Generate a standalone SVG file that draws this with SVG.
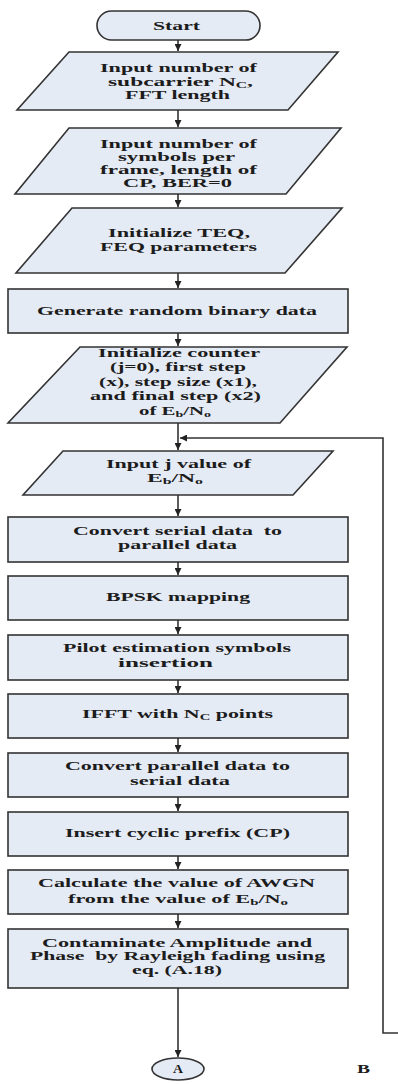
<svg xmlns="http://www.w3.org/2000/svg" width="398" height="1084" viewBox="0 0 398 1084">
<style>
.box{fill:#e5ebf5;stroke:#333;stroke-width:1.6}
.t{font-family:"Liberation Serif","Times New Roman",serif;font-weight:bold;font-size:12px;fill:#1c1c1c}
.sub{font-size:8px}
.ln{fill:none;stroke:#333;stroke-width:1.6}
</style>
<defs>
<marker id="ah" markerUnits="userSpaceOnUse" markerWidth="8" markerHeight="7" refX="7" refY="3.5" orient="auto">
<path d="M0,0 L7,3.5 L0,7 z" fill="#222"/>
</marker>
</defs>
<rect width="398" height="1084" fill="#fff"/>

<g id="connectors">
<path class="ln" d="M178,40 V51" marker-end="url(#ah)"/>
<path class="ln" d="M178,110 V127" marker-end="url(#ah)"/>
<path class="ln" d="M178,194 V207" marker-end="url(#ah)"/>
<path class="ln" d="M178,273 V288" marker-end="url(#ah)"/>
<path class="ln" d="M178,333 V346" marker-end="url(#ah)"/>
<path class="ln" d="M178,423 V450" marker-end="url(#ah)"/>
<path class="ln" d="M398,1033 H383 V438 H180" marker-end="url(#ah)"/>
<path class="ln" d="M178,495 V516" marker-end="url(#ah)"/>
<path class="ln" d="M178,562 V575" marker-end="url(#ah)"/>
<path class="ln" d="M178,620 V634" marker-end="url(#ah)"/>
<path class="ln" d="M178,680 V693" marker-end="url(#ah)"/>
<path class="ln" d="M178,738 V752" marker-end="url(#ah)"/>
<path class="ln" d="M178,797 V811" marker-end="url(#ah)"/>
<path class="ln" d="M178,856 V869" marker-end="url(#ah)"/>
<path class="ln" d="M178,914 V928" marker-end="url(#ah)"/>
<path class="ln" d="M178,988 V1057" marker-end="url(#ah)"/>
</g>

<g id="start">
<rect class="box" x="97" y="11" width="163" height="29" rx="14.5"/>
<text class="t" x="153" y="30" font-size="11" textLength="47" lengthAdjust="spacingAndGlyphs">Start</text>
</g>

<g id="input1">
<polygon class="box" points="69,52 338,52 288,110 17,110"/>
<text class="t" x="100" y="72" textLength="157" lengthAdjust="spacingAndGlyphs">Input number of</text>
<text class="t" x="108" y="86" textLength="145" lengthAdjust="spacingAndGlyphs">subcarrier N<tspan class="sub" dy="2">C</tspan><tspan dy="-2">,</tspan></text>
<text class="t" x="125" y="99" textLength="105" lengthAdjust="spacingAndGlyphs">FFT length</text>
</g>

<g id="input2">
<polygon class="box" points="69,128 341,128 286,194 15,194"/>
<text class="t" x="100" y="148" textLength="157" lengthAdjust="spacingAndGlyphs">Input number of</text>
<text class="t" x="118" y="161" textLength="117" lengthAdjust="spacingAndGlyphs">symbols per</text>
<text class="t" x="100" y="174" textLength="157" lengthAdjust="spacingAndGlyphs">frame, length of</text>
<text class="t" x="123" y="187" textLength="109" lengthAdjust="spacingAndGlyphs">CP, BER=0</text>
</g>

<g id="init-teq">
<polygon class="box" points="72,208 342,208 285,273 16,273"/>
<text class="t" x="108" y="237" textLength="142" lengthAdjust="spacingAndGlyphs">Initialize TEQ,</text>
<text class="t" x="100" y="251" textLength="157" lengthAdjust="spacingAndGlyphs">FEQ parameters</text>
</g>

<g id="generate">
<rect class="box" x="8" y="289" width="340" height="44"/>
<text class="t" x="37" y="315" textLength="280" lengthAdjust="spacingAndGlyphs">Generate random binary data</text>
</g>

<g id="init-counter">
<polygon class="box" points="80,347 347,347 280,423 8,423"/>
<text class="t" x="98" y="357" textLength="162" lengthAdjust="spacingAndGlyphs">Initialize counter</text>
<text class="t" x="110" y="371" textLength="136" lengthAdjust="spacingAndGlyphs">(j=0), first step</text>
<text class="t" x="99" y="386" textLength="158" lengthAdjust="spacingAndGlyphs">(x), step size (x1),</text>
<text class="t" x="90" y="400" textLength="171" lengthAdjust="spacingAndGlyphs">and final step (x2)</text>
<text class="t" x="139" y="415" textLength="72" lengthAdjust="spacingAndGlyphs">of E<tspan class="sub" dy="2">b</tspan><tspan dy="-2">/N</tspan><tspan class="sub" dy="2">o</tspan></text>
</g>

<g id="input-j">
<polygon class="box" points="63,451 333,451 293,495 23,495"/>
<text class="t" x="106" y="468" textLength="145" lengthAdjust="spacingAndGlyphs">Input j value of</text>
<text class="t" x="147" y="482" textLength="56" lengthAdjust="spacingAndGlyphs">E<tspan class="sub" dy="2">b</tspan><tspan dy="-2">/N</tspan><tspan class="sub" dy="2">o</tspan></text>
</g>

<g id="serial-parallel">
<rect class="box" x="8" y="517" width="340" height="45"/>
<text class="t" x="73" y="535" textLength="209" lengthAdjust="spacingAndGlyphs" xml:space="preserve">Convert serial data  to</text>
<text class="t" x="118" y="549" textLength="119" lengthAdjust="spacingAndGlyphs">parallel data</text>
</g>

<g id="bpsk">
<rect class="box" x="8" y="576" width="340" height="44"/>
<text class="t" x="106" y="601" textLength="144" lengthAdjust="spacingAndGlyphs">BPSK mapping</text>
</g>

<g id="pilot">
<rect class="box" x="8" y="635" width="340" height="45"/>
<text class="t" x="63" y="652" textLength="228" lengthAdjust="spacingAndGlyphs">Pilot estimation symbols</text>
<text class="t" x="118" y="667" textLength="95" lengthAdjust="spacingAndGlyphs">insertion</text>
</g>

<g id="ifft">
<rect class="box" x="8" y="694" width="340" height="44"/>
<text class="t" x="82" y="718" textLength="191" lengthAdjust="spacingAndGlyphs">IFFT with N<tspan class="sub" dy="2">C</tspan><tspan dy="-2"> points</tspan></text>
</g>

<g id="parallel-serial">
<rect class="box" x="8" y="753" width="340" height="44"/>
<text class="t" x="65" y="770" textLength="225" lengthAdjust="spacingAndGlyphs">Convert parallel data to</text>
<text class="t" x="130" y="785" textLength="100" lengthAdjust="spacingAndGlyphs">serial data</text>
</g>

<g id="cyclic-prefix">
<rect class="box" x="8" y="812" width="340" height="44"/>
<text class="t" x="65" y="837" textLength="225" lengthAdjust="spacingAndGlyphs">Insert cyclic prefix (CP)</text>
</g>

<g id="awgn">
<rect class="box" x="8" y="870" width="340" height="44"/>
<text class="t" x="38" y="887" textLength="277" lengthAdjust="spacingAndGlyphs">Calculate the value of AWGN</text>
<text class="t" x="68" y="903" textLength="220" lengthAdjust="spacingAndGlyphs">from the value of E<tspan class="sub" dy="2">b</tspan><tspan dy="-2">/N</tspan><tspan class="sub" dy="2">o</tspan></text>
</g>

<g id="rayleigh">
<rect class="box" x="8" y="929" width="340" height="59"/>
<text class="t" x="42" y="947" textLength="270" lengthAdjust="spacingAndGlyphs">Contaminate Amplitude and</text>
<text class="t" x="30" y="960" textLength="295" lengthAdjust="spacingAndGlyphs" xml:space="preserve">Phase  by Rayleigh fading using</text>
<text class="t" x="132" y="974" textLength="90" lengthAdjust="spacingAndGlyphs">eq. (A.18)</text>
</g>

<g id="connector-a">
<ellipse class="box" cx="178" cy="1069" rx="26" ry="11"/>
<text class="t" x="173" y="1073" font-size="10" textLength="10" lengthAdjust="spacingAndGlyphs">A</text>
</g>

<g id="label-b">
<text class="t" x="357" y="1073" font-size="15" textLength="13" lengthAdjust="spacingAndGlyphs">B</text>
</g>
</svg>
